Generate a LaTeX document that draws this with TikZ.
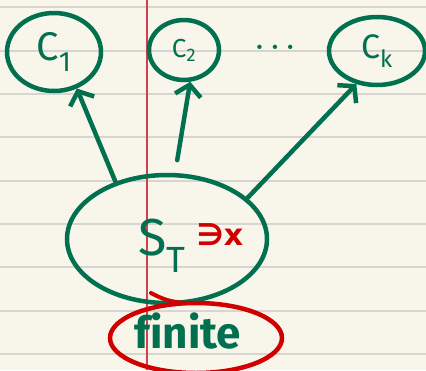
\documentclass[tikz,border=0pt]{standalone}
\usepackage{amsmath, amssymb}
\usepackage{fontspec}
\setsansfont{Fira Sans}
\newfontfamily\symfont{DejaVu Sans}
\usepackage{tikz}
\usetikzlibrary{arrows.meta, positioning, shapes.geometric}

\definecolor{paper}{HTML}{F8F5EA}
\definecolor{rule}{HTML}{D6D5D2}
\definecolor{margin}{HTML}{D0404E}
\definecolor{ink}{HTML}{00704F}
\definecolor{redink}{HTML}{D00000}

\begin{document}
\begin{tikzpicture}[
    x=1pt, y=-1pt,
    pen/.style={draw=ink, line width=4.5pt},
    blob/.style={ellipse, pen, inner sep=0pt, text=ink},
    arr/.style={pen, line cap=round, -{Straight Barb[length=11pt, width=26pt, line width=4.5pt]}}
]
% Lined paper with a red margin
\fill[paper] (0,0) rectangle (426,370);
\useasboundingbox (0,0) rectangle (426,370);
\foreach \y in {7.3,50.7,94,137.3,180.7,224,267.3,310.7,354}
    \draw[rule, line width=2pt] (0,\y) -- (426,\y);
\draw[margin, line width=1.4pt] (147,0) -- (147,370);
% Components C_1, C_2, ..., C_k
\node[blob, minimum width=94, minimum height=78] (c1) at (54,52)
    {\fontsize{40}{44}\selectfont$\mathsf{C}_{\mathsf{1}}$};
\node[blob, minimum width=70, minimum height=60] (c2) at (184,50)
    {\fontsize{26}{30}\selectfont$\mathsf{C}_{\mathsf{2}}$};
\node[text=ink, font=\bfseries\fontsize{30}{34}\selectfont] (dots) at (275,47)
    {.\hspace{6pt}.\hspace{6pt}.};
\node[blob, minimum width=96, minimum height=68] (ck) at (377,51)
    {\fontsize{34}{38}\selectfont$\mathsf{C}_{\mathsf{k}}$};
% Big set S_T holding x, marked finite
\node[blob, minimum width=200, minimum height=128] (st) at (167,239) {};
\node[text=ink] (stlabel) at (162,246)
    {\fontsize{52}{60}\selectfont$\mathsf{S}_{\mathsf{T}}$};
\node[text=redink, font=\symfont\bfseries\fontsize{30}{34}\selectfont] (mark) at (220,235)
    {∋x};
\draw[draw=redink, line width=4.5pt] (196,338) ellipse [x radius=86, y radius=35];
\coordinate (tick) at (151,293);
\draw[draw=redink, line width=4pt, line cap=round] (tick) to[bend right=12] (185,303);
\node[text=ink, font=\sffamily\fontseries{sb}\fontsize{44}{50}\selectfont] (fin) at (188,331)
    {f\kern0pt inite};
% Arrows from S_T up to each component
\draw[arr] (st.132) -- (c1.-58);
\draw[arr, shorten <=13pt] (st.83) -- (c2.-79);
\draw[arr] (st.27) -- (ck.-122);
\end{tikzpicture}
\end{document}
